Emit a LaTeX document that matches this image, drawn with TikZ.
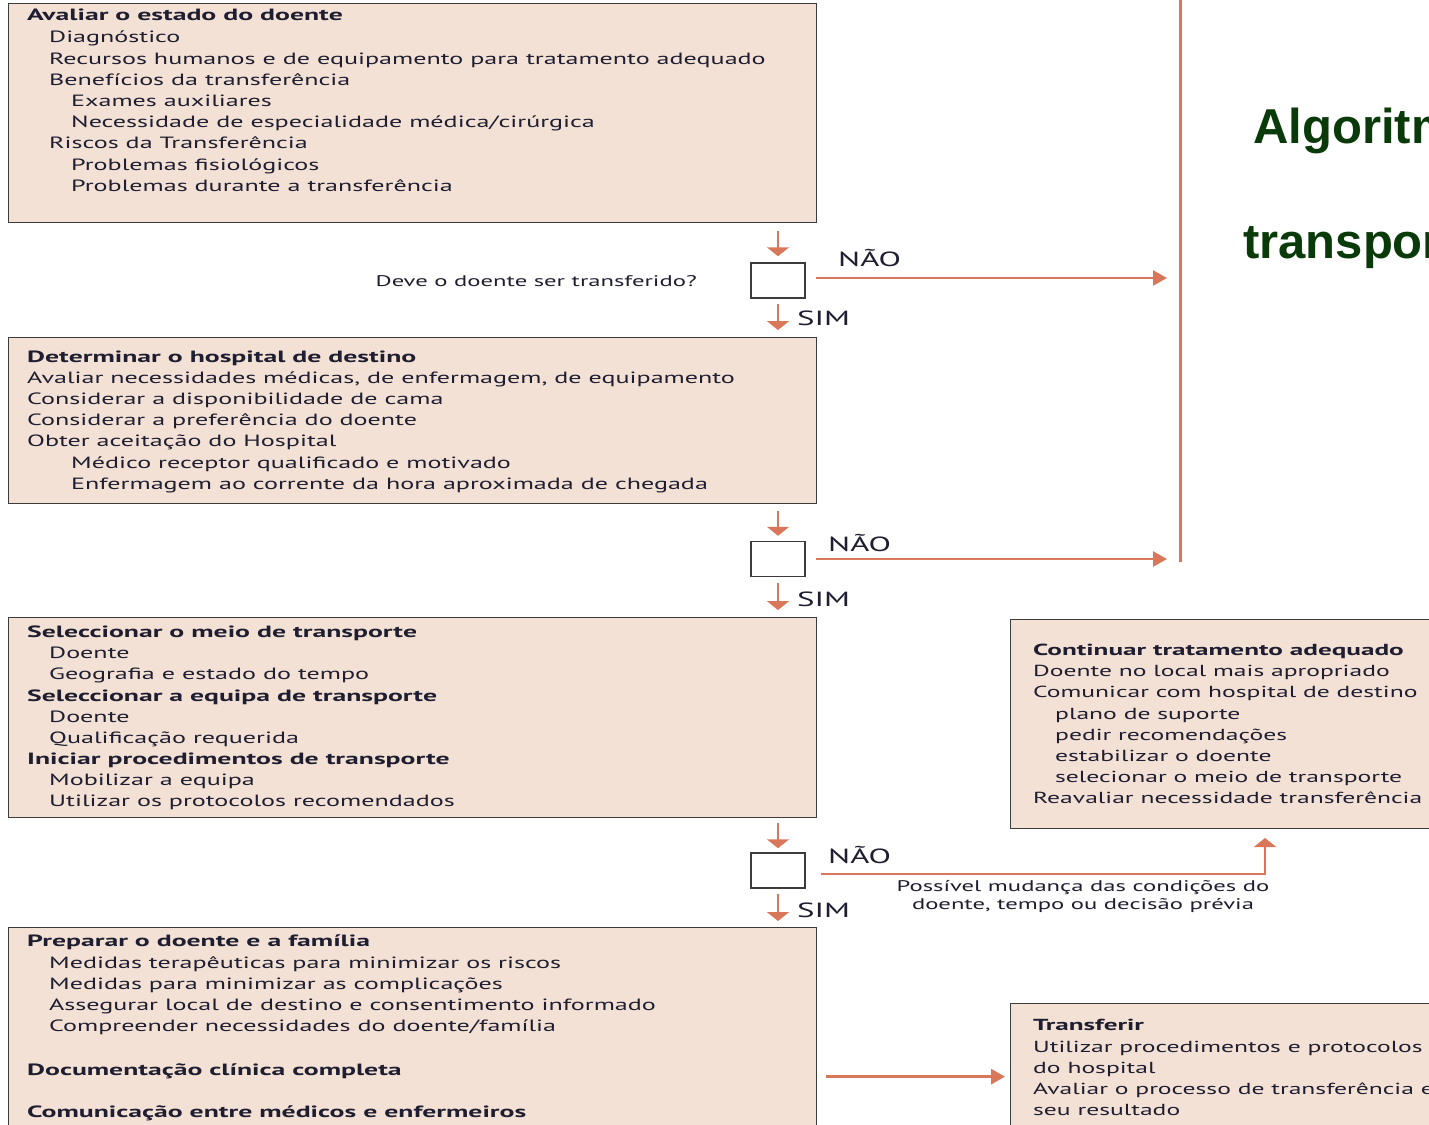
\documentclass[tikz,border=0pt]{standalone}
\usepackage{fontspec}
\setmainfont{PT Sans}[FakeStretch=1.6,BoldFeatures={FakeStretch=1.7}]
\newfontfamily\titlefont{Liberation Sans}
\usetikzlibrary{arrows.meta}
\definecolor{boxfill}{HTML}{F3E1D6}
\definecolor{boxline}{HTML}{3C3C3C}
\definecolor{arrcol}{HTML}{D9775A}
\definecolor{txtcol}{HTML}{1E1E30}
\definecolor{titlecol}{HTML}{0A3A0A}
\begin{document}
\begin{tikzpicture}[x=1pt,y=-1pt,
 box/.style={draw=boxline, fill=boxfill, line width=1.3pt, rectangle, anchor=north west, inner sep=0pt},
 decbox/.style={draw=boxline, fill=white, line width=1.5pt, minimum width=54pt, minimum height=35pt, inner sep=0pt},
 txt/.style={anchor=base west, inner sep=0pt, text=txtcol, font=\fontsize{16.3}{20}\selectfont},
 rtxt/.style={txt, font=\fontsize{16}{20}\selectfont},
 small/.style={anchor=base, inner sep=0pt, text=txtcol, font=\fontsize{15.4}{18}\selectfont},
 yn/.style={anchor=base west, inner sep=0pt, text=txtcol, font=\fontsize{20.5}{24}\selectfont},
 vflow/.style={draw=arrcol, line width=2.8pt, -{Triangle[length=9pt,width=22pt]}},
 hflow/.style={draw=arrcol, line width=2.6pt, -{Triangle[length=14pt,width=15pt]}},
 titletxt/.style={anchor=base west, inner sep=0pt, text=titlecol, font=\titlefont\bfseries\fontsize{49}{56}\selectfont}]
\useasboundingbox (0,0) rectangle (1429,1124);
\clip (0,0) rectangle (1429,1124);
\fill[white] (0,0) rectangle (1429,1124);

% boxes
\node[box, minimum width=808pt, minimum height=219pt] (b1) at (8,3) {};
\node[box, minimum width=808pt, minimum height=166pt] (b2) at (8,337) {};
\node[box, minimum width=808pt, minimum height=200pt] (b3) at (8,617) {};
\node[box, minimum width=808pt, minimum height=298pt] (b4) at (8,927) {};
\node[box, minimum width=450pt, minimum height=209pt] (r1) at (1010,619) {};
\node[box, minimum width=450pt, minimum height=146pt] (r2) at (1010,1003) {};

% decision boxes
\node[decbox] (d1) at (778,280.5) {};
\node[decbox] (d2) at (778,559) {};
\node[decbox] (d3) at (778,870.5) {};

% box texts
\foreach \yy/\xx/\ltext [count=\i] in {
 21/27/{\textbf{Avaliar o estado do doente}},
 43/49/{Diagnóstico},
 64/49/{Recursos humanos e de equipamento para tratamento adequado},
 85/49/{Benefícios da transferência},
 106/71/{Exames auxiliares},
 127/71/{Necessidade de especialidade médica/cirúrgica},
 148/49/{Riscos da Transferência},
 170/71/{Problemas fisiológicos},
 191/71/{Problemas durante a transferência}}
 {\node[txt] (ta\i) at (\xx,\yy) {\ltext};}

\foreach \yy/\xx/\ltext [count=\i] in {
 362/27/{\textbf{Determinar o hospital de destino}},
 383/27/{Avaliar necessidades médicas, de enfermagem, de equipamento},
 404/27/{Considerar a disponibilidade de cama},
 425/27/{Considerar a preferência do doente},
 446/27/{Obter aceitação do Hospital},
 468/71/{Médico receptor qualificado e motivado},
 489/71/{Enfermagem ao corrente da hora aproximada de chegada}}
 {\node[txt] (tb\i) at (\xx,\yy) {\ltext};}

\foreach \yy/\xx/\ltext [count=\i] in {
 637/27/{\textbf{Seleccionar o meio de transporte}},
 658/49/{Doente},
 679/49/{Geografia e estado do tempo},
 701/27/{\textbf{Seleccionar a equipa de transporte}},
 722/49/{Doente},
 743/49/{Qualificação requerida},
 764/27/{\textbf{Iniciar procedimentos de transporte}},
 785/49/{Mobilizar a equipa},
 806/49/{Utilizar os protocolos recomendados}}
 {\node[txt] (tc\i) at (\xx,\yy) {\ltext};}

\foreach \yy/\xx/\ltext [count=\i] in {
 946/27/{\textbf{Preparar o doente e a família}},
 968/49/{Medidas terapêuticas para minimizar os riscos},
 989/49/{Medidas para minimizar as complicações},
 1010/49/{Assegurar local de destino e consentimento informado},
 1031/49/{Compreender necessidades do doente/família},
 1075/27/{\textbf{Documentação clínica completa}},
 1117/27/{\textbf{Comunicação entre médicos e enfermeiros}}}
 {\node[txt] (td\i) at (\xx,\yy) {\ltext};}

\foreach \yy/\xx/\ltext [count=\i] in {
 655/1033/{\textbf{Continuar tratamento adequado}},
 676/1033/{Doente no local mais apropriado},
 697/1033/{Comunicar com hospital de destino},
 719/1055/{plano de suporte},
 740/1055/{pedir recomendações},
 761/1055/{estabilizar o doente},
 782/1055/{selecionar o meio de transporte},
 803/1033/{Reavaliar necessidade transferência}}
 {\node[rtxt] (te\i) at (\xx,\yy) {\ltext};}

\foreach \yy/\xx/\ltext [count=\i] in {
 1030/1033/{\textbf{Transferir}},
 1052/1033/{Utilizar procedimentos e protocolos},
 1073/1033/{do hospital},
 1094/1033/{Avaliar o processo de transferência e},
 1115/1033/{seu resultado}}
 {\node[rtxt] (tf\i) at (\xx,\yy) {\ltext};}

% title
\node[titletxt] (ti1) at (1253,143) {Algoritmo};
\node[titletxt] (ti2) at (1243,258) {transporte};

% labels
\node[small, anchor=base east] (q1) at (697,286) {Deve o doente ser transferido?};
\node[yn] (n1) at (838,266) {NÃO};
\node[yn] (n2) at (828,551) {NÃO};
\node[yn] (n3) at (828,863) {NÃO};
\node[yn] (s1) at (797,325) {SIM};
\node[yn] (s2) at (797,606) {SIM};
\node[yn] (s3) at (797,917) {SIM};
\node[small] (p1) at (1083,891) {Possível mudança das condições do};
\node[small] (p2) at (1083,909) {doente, tempo ou decisão prévia};

% coordinates
\coordinate (vtop) at (1180,0);
\coordinate (vbot) at (1180,562);
\coordinate (up3) at (1265,828);

% vertical bar
\draw[arrcol, line width=3pt] (vtop) -- (vbot);

% down arrows
\draw[vflow, shorten <=8pt, shorten >=6pt] (d1.north |- b1.south) -- (d1.north);
\draw[vflow, shorten <=5pt, shorten >=7pt] (d1.south) -- (d1.south |- b2.north);
\draw[vflow, shorten <=7pt, shorten >=5pt] (d2.north |- b2.south) -- (d2.north);
\draw[vflow, shorten <=6pt, shorten >=7pt] (d2.south) -- (d2.south |- b3.north);
\draw[vflow, shorten <=5pt, shorten >=4pt] (d3.north |- b3.south) -- (d3.north);
\draw[vflow, shorten <=5pt, shorten >=6pt] (d3.south) -- (d3.south |- b4.north);

% NAO arrows
\draw[hflow, shorten <=10pt, shorten >=13pt] ([yshift=2.5pt]d1.east) -- ([yshift=2.5pt]d1.east -| vtop);
\draw[hflow, shorten <=10pt, shorten >=13pt] (d2.east) -- (d2.east -| vtop);
\draw[vflow, shorten <=15pt, shorten >=10pt] ([yshift=-3.5pt]d3.east) -| (up3);

% to transfer
\draw[hflow, shorten <=9pt, shorten >=5pt] (b4.east) -- (r2.west);
\end{tikzpicture}
\end{document}
